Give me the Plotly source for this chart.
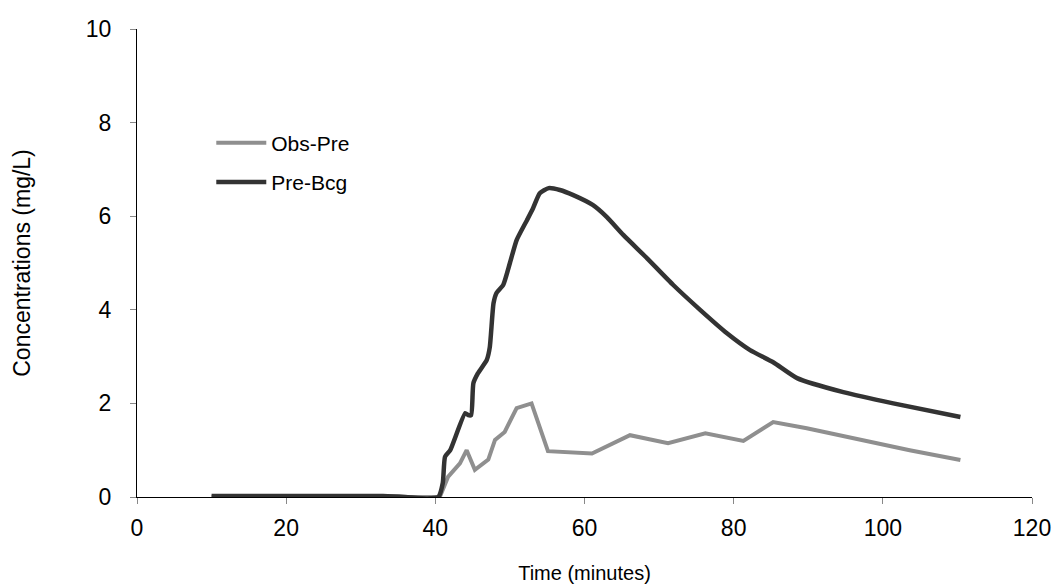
import plotly.graph_objects as go

# Obs-Pre series (time in minutes, concentration mg/L)
obs_t = [10, 20, 34, 40.6, 41.7, 43.3, 44.2, 45.3, 47.1, 48.0, 49.3, 50.9, 52.9, 55.1,
         61.0, 66.1, 71.2, 76.2, 81.3, 85.3, 89.8, 96.9, 103.6, 110.4]
obs_c = [0, 0, 0, 0, 0.43, 0.72, 1.0, 0.58, 0.8, 1.22, 1.39, 1.9, 2.0, 0.98,
         0.93, 1.32, 1.15, 1.36, 1.2, 1.6, 1.47, 1.22, 1.0, 0.79]

# Pre-Bcg series
pre_t = [10, 20, 33, 36, 38.9, 40.4, 41.0, 41.3, 42.0, 44.0, 44.4, 44.8, 45.1, 45.7, 46.9,
         47.3, 47.8, 48.2, 49.1, 50.0, 50.9, 52.3, 53.1, 54.0, 55.2, 56.7, 58.5,
         61.1, 63.0, 65.2, 68.4, 71.9, 75.5, 79.1, 82.2, 85.3, 88.5, 94.7, 101.4, 110.4]
pre_c = [0.02, 0.02, 0.02, 0.0, -0.03, 0.0, 0.3, 0.86, 1.0, 1.79, 1.75, 1.75, 2.43, 2.64, 2.93,
         3.2, 4.14, 4.36, 4.53, 5.0, 5.49, 5.92, 6.17, 6.49, 6.6, 6.56, 6.45,
         6.24, 5.98, 5.6, 5.1, 4.53, 4.0, 3.5, 3.14, 2.88, 2.54, 2.24, 2.0, 1.71]

x_ticks = [0, 20, 40, 60, 80, 100, 120]
y_ticks = [0, 2, 4, 6, 8, 10]

FONT = "Liberation Sans, Arial, sans-serif"

fig = go.Figure()
fig.add_trace(go.Scatter(
    x=obs_t, y=obs_c, name="Obs-Pre", mode="lines",
    line=dict(color="#8f8f8f", width=4), legendgroup="a"))
fig.add_trace(go.Scatter(
    x=pre_t, y=pre_c, name="Pre-Bcg", mode="lines",
    line=dict(color="#333333", width=4.5, shape="spline", smoothing=0.5), legendgroup="b"))

fig.update_layout(
    width=1056, height=587,
    margin=dict(l=137, r=24, t=29, b=90),
    plot_bgcolor="white", paper_bgcolor="white",
    font=dict(family=FONT, color="black", size=22),
    showlegend=True,
    legend=dict(x=0.083, y=0.80, xanchor="left", yanchor="top",
                bgcolor="rgba(0,0,0,0)", font=dict(size=21, family=FONT),
                tracegroupgap=9, itemwidth=50),
    xaxis=dict(range=[0, 120], tickvals=x_ticks, showgrid=False, zeroline=False,
               showline=True, linecolor="black", linewidth=1, automargin=False,
               ticks="outside", ticklen=6, tickcolor="#888888",
               ticklabelstandoff=4,
               tickfont=dict(size=23, family=FONT),
               title=dict(text="Time (minutes)", font=dict(size=20, family=FONT), standoff=26)),
    yaxis=dict(range=[0, 10], tickvals=y_ticks, showgrid=False, zeroline=False,
               showline=True, linecolor="black", linewidth=1, automargin=False,
               ticks="outside", ticklen=6, tickcolor="#888888",
               ticklabelstandoff=14,
               tickfont=dict(size=23, family=FONT),
               title=dict(text="Concentrations (mg/L)", font=dict(size=23, family=FONT), standoff=48)),
)

fig.write_html("out.html")
